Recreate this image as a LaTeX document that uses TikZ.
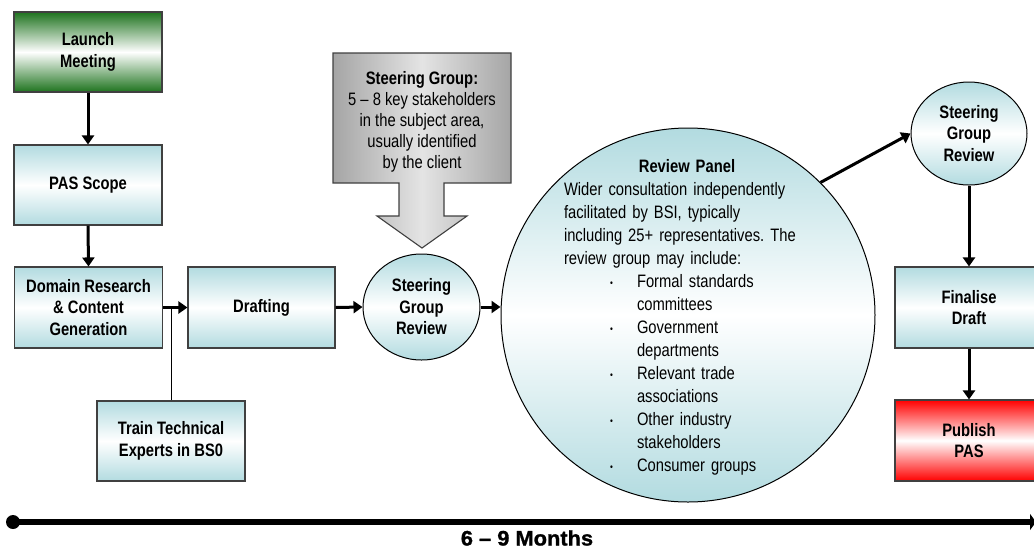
\documentclass[tikz,border=0pt]{standalone}
\usepackage{fontspec}
\setmainfont[FakeStretch=0.82]{Liberation Sans}
\newfontfamily\spanfont[FakeStretch=1.04,FakeBold=1.2]{Liberation Sans}
\usetikzlibrary{arrows.meta,shapes.geometric}
\frenchspacing

\definecolor{tealshade}{RGB}{178,219,224}
\definecolor{greenshade}{RGB}{30,115,30}
\definecolor{redshade}{RGB}{255,0,0}
\definecolor{edgegray}{RGB}{64,64,64}
\definecolor{noteouter}{RGB}{165,165,165}
\definecolor{noteinner}{RGB}{228,228,228}

\newcommand\labelfont{\fontsize{18}{21.5}\selectfont\bfseries}
\newcommand\bodyfont{\fontsize{18}{23}\selectfont}
\newcommand\noteline{\fontsize{18}{21}\selectfont}
\newcommand\pdot{\raisebox{0.05em}{\scalebox{0.55}{\textbullet}}}
\newcommand\pitem[1]{\hspace*{46pt}\makebox[27pt][l]{\pdot}#1}
\newcommand\pcont[1]{\hspace*{73pt}#1}

\tikzset{
  shadefill/.style={top color=#1, bottom color=#1, middle color=white},
  stagebox/.style={draw=edgegray, line width=1.1pt, minimum width=148pt,
    minimum height=80pt, inner sep=2pt, align=center, font=\labelfont,
    shadefill=tealshade},
  reviewnode/.style={ellipse, draw=black, line width=1pt, inner sep=0pt,
    minimum width=117pt, minimum height=105pt, align=center,
    font=\labelfont, shadefill=tealshade},
  flow/.style={line width=3pt, -{Triangle[length=9pt,width=12pt]}},
}

\begin{document}
\begin{tikzpicture}[x=1pt,y=-1pt]
\useasboundingbox (0,0) rectangle (1034,550);

% left column
\node[stagebox, shadefill=greenshade] (launch) at (88,52) {Launch\\Meeting};
\node[stagebox] (scope) at (88,185) {PAS Scope};
\node[stagebox, minimum height=81pt] (domain) at (88.5,307.5)
  {Domain Research\\\& Content\\Generation};
\node[stagebox, minimum width=147pt, minimum height=81pt] (drafting) at (261.5,307.5) {Drafting};
\node[stagebox] (train) at (171,441) {Train Technical\\Experts in BS0};

% first steering review
\node[reviewnode, minimum height=106pt] (sgone) at (421.5,307) {Steering\\Group\\Review};

% steering group call-out arrow
\shade[left color=noteouter, right color=noteouter, middle color=noteinner,
  draw=edgegray, line width=1.1pt]
  (333,53) -- (511,53) -- (511,183) -- (444,183) -- (444,216) -- (467,216)
  -- (422,248) -- (377,216) -- (399,216) -- (399,183) -- (333,183) -- cycle;
\node[align=center, font=\noteline, inner sep=0pt] (sgnote) at (422,121.5)
  {\textbf{Steering Group:}\\5 – 8 key stakeholders\\in the subject area,\\usually identified\\by the client};

% review panel
\node[circle, draw=black, line width=1pt, minimum size=374pt, inner sep=0pt,
  shadefill=tealshade] (panel) at (688,315) {};
\node[align=left, text width=246pt, font=\bodyfont, inner sep=0pt] (paneltext) at (687,317) {%
\makebox[246pt]{\bfseries Review Panel}\\
Wider consultation independently\\
facilitated by BSI, typically\\
including 25+ representatives. The\\
review group may include:\\
\pitem{Formal standards}\\
\pcont{committees}\\
\pitem{Government}\\
\pcont{departments}\\
\pitem{Relevant trade}\\
\pcont{associations}\\
\pitem{Other industry}\\
\pcont{stakeholders}\\
\pitem{Consumer groups}};

% right column
\node[reviewnode, minimum width=116pt, minimum height=103pt] (sgtwo) at (969,133.5) {Steering\\Group\\Review};
\node[stagebox, minimum height=81pt] (finalise) at (969,307.5) {Finalise\\Draft};
\node[stagebox, minimum height=81pt, shadefill=redshade] (publish) at (969,440.5) {Publish\\PAS};

% connectors
\draw[flow] (launch.south) -- (scope.north);
\draw[flow] (scope.south) -- (domain.north);
\coordinate (junction) at (train.north |- domain.east);
\draw[line width=1pt] (train.north) -- (junction);
\draw[flow] (domain.east) -- (drafting.west);
\draw[flow] (drafting.east) -- (sgone.west);
\draw[flow] (sgone.east) -- (sgone.east -| panel.west);
\draw[flow] (panel.45) -- (sgtwo.west);
\draw[flow] (sgtwo.south) -- (finalise.north);
\draw[flow] (finalise.south) -- (publish.north);

% time line
\coordinate (tstart) at (13,522);
\coordinate (tend) at (1036,522);
\draw[line width=6pt, -{Triangle[length=6pt,width=16pt]}] (tstart) -- (tend);
\fill (tstart) circle (7pt);
\node[font=\spanfont\fontsize{21}{24}\selectfont\bfseries, inner sep=0pt] (span) at (527,538) {6 – 9 Months};
\end{tikzpicture}
\end{document}
